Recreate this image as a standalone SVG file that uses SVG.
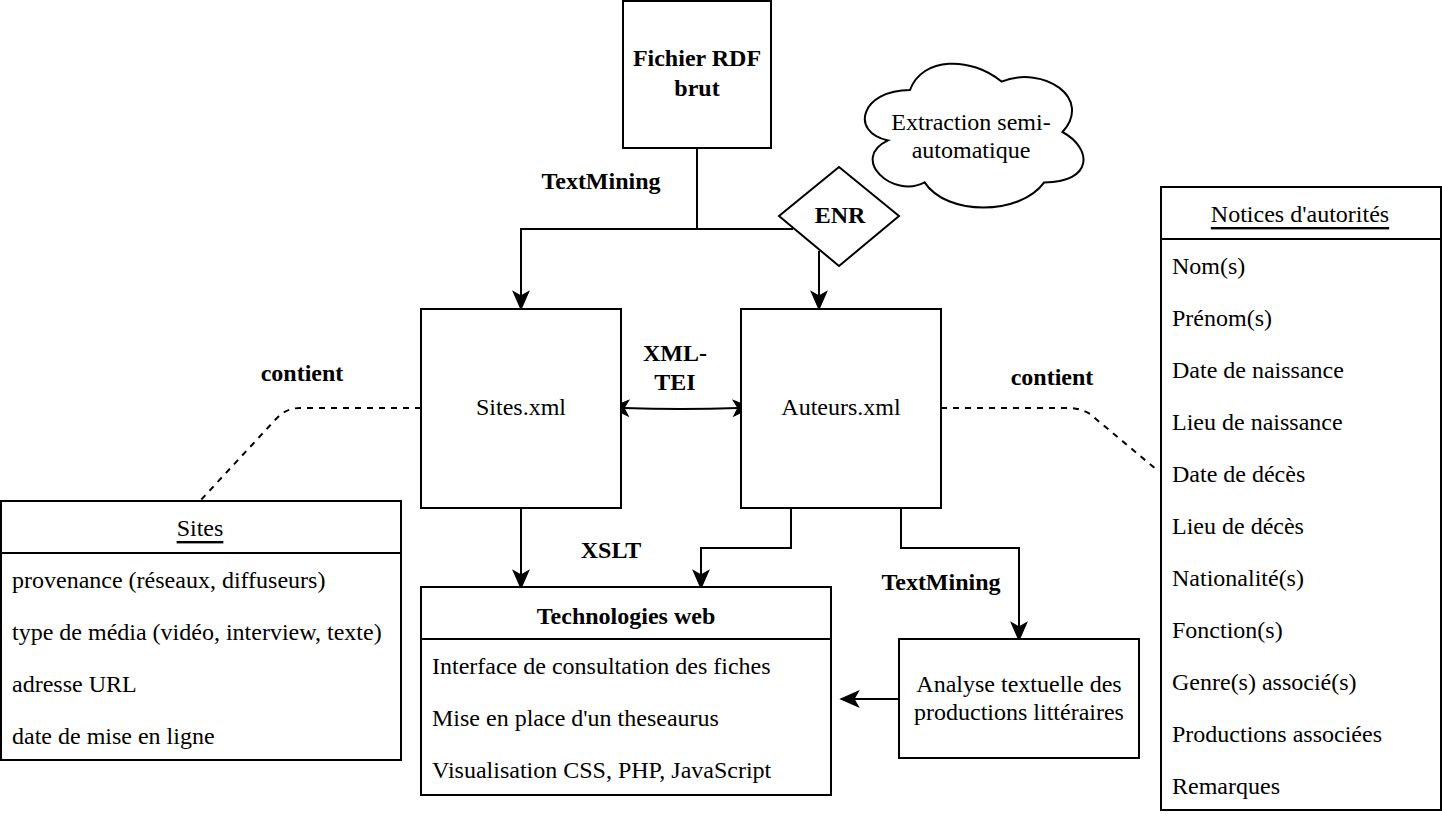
<svg xmlns="http://www.w3.org/2000/svg" width="1442" height="818" viewBox="0 0 1442 818">
<style>
text{font-family:"Liberation Serif","Times New Roman",serif;font-size:24px;fill:#000}
.b{font-weight:bold}
.c{text-anchor:middle;dominant-baseline:central}
.l{dominant-baseline:central}
.u{text-decoration:underline}
.box{fill:#fff;stroke:#000;stroke-width:2}
.ln{fill:none;stroke:#000;stroke-width:2}
.arr{marker-end:url(#ah)}
.dash{fill:none;stroke:#000;stroke-width:2;stroke-dasharray:6 6}
</style>
<defs>
<marker id="ah" markerUnits="userSpaceOnUse" orient="auto-start-reverse" refX="0" refY="0" markerWidth="20" markerHeight="20" viewBox="-5 -8 18 16" overflow="visible">
<path d="M12,0 L-4,-7 L0,0 L-4,7 Z" fill="#000" stroke="#000" stroke-width="1" stroke-linejoin="miter"/>
</marker>
</defs>
<rect width="1442" height="818" fill="#fff"/>

<g id="connectors">
<path class="ln" d="M697,148 L697,229"/>
<path class="ln arr" d="M793,229 L521,229 L521,296"/>
<path class="ln arr" d="M819,251 L819,296"/>
<path class="ln" d="M624,408 Q681,410 738,408" marker-start="url(#ah)" marker-end="url(#ah)"/>
<path class="ln arr" d="M521,508 L521,575"/>
<path class="ln arr" d="M791,508 L791,548 L701,548 L701,575"/>
<path class="ln arr" d="M901,508 L901,548 L1019,548 L1019,627"/>
<path class="ln arr" d="M899,699 L854,699"/>
<path class="dash" d="M421,408 L300,408 Q286,408 276,419 L200,501"/>
<path class="dash" d="M941,408 L1070,408 Q1080,408 1090,414 L1157,470"/>
<text class="c b" x="601" y="181">TextMining</text>
<text class="c b" x="675" y="353">XML-</text>
<text class="c b" x="675" y="382">TEI</text>
<text class="c b" x="302" y="373">contient</text>
<text class="c b" x="1052" y="377">contient</text>
<text class="c b" x="611" y="550">XSLT</text>
<text class="c b" x="941" y="582">TextMining</text>
</g>

<g id="rdf">
<rect class="box" x="623" y="1" width="148" height="147"/>
<text class="c b" x="697" y="58">Fichier RDF</text>
<text class="c b" x="697" y="88">brut</text>
</g>

<g id="enr">
<path class="box" d="M839,167 L899,216 L839,266 L779,216 Z"/>
<text class="c b" x="840" y="215">ENR</text>
</g>

<g id="cloud">
<path class="box" d="M910,90 C861.2,90 849,132 888,140.4 C849,158.9 892.9,199.2 924.6,182.4 C946.6,216 1019.8,216 1044.2,182.4 C1093,182.4 1093,148.8 1062.5,132 C1093,98.4 1044.2,64.8 1001.5,81.6 C971,56.4 922.2,56.4 910,90 Z"/>
<text class="c" x="971" y="122">Extraction semi-</text>
<text class="c" x="971" y="150">automatique</text>
</g>

<g id="sitesxml">
<rect class="box" x="421" y="309" width="200" height="199"/>
<text class="c" x="521" y="407">Sites.xml</text>
</g>

<g id="auteursxml">
<rect class="box" x="741" y="309" width="200" height="199"/>
<text class="c" x="841" y="407">Auteurs.xml</text>
</g>

<g id="sites">
<rect class="box" x="1" y="501" width="400" height="259"/>
<line class="ln" x1="1" y1="553" x2="401" y2="553"/>
<text class="c u" x="200" y="528">Sites</text>
<text class="l" x="12" y="580">provenance (réseaux, diffuseurs)</text>
<text class="l" x="12" y="632">type de média (vidéo, interview, texte)</text>
<text class="l" x="12" y="684">adresse URL</text>
<text class="l" x="12" y="736">date de mise en ligne</text>
</g>

<g id="techweb">
<rect class="box" x="421" y="587" width="410" height="208"/>
<line class="ln" x1="421" y1="639" x2="831" y2="639"/>
<text class="c b" x="626" y="616">Technologies web</text>
<text class="l" x="432" y="666">Interface de consultation des fiches</text>
<text class="l" x="432" y="718">Mise en place d'un theseaurus</text>
<text class="l" x="432" y="770">Visualisation CSS, PHP, JavaScript</text>
</g>

<g id="analyse">
<rect class="box" x="899" y="639" width="240" height="119"/>
<text class="c" x="1019" y="684">Analyse textuelle des</text>
<text class="c" x="1019" y="712">productions littéraires</text>
</g>

<g id="notices">
<rect class="box" x="1161" y="187" width="280" height="623"/>
<line class="ln" x1="1161" y1="239" x2="1441" y2="239"/>
<text class="c u" x="1300" y="214">Notices d'autorités</text>
<text class="l" x="1172" y="266">Nom(s)</text>
<text class="l" x="1172" y="318">Prénom(s)</text>
<text class="l" x="1172" y="370">Date de naissance</text>
<text class="l" x="1172" y="422">Lieu de naissance</text>
<text class="l" x="1172" y="474">Date de décès</text>
<text class="l" x="1172" y="526">Lieu de décès</text>
<text class="l" x="1172" y="578">Nationalité(s)</text>
<text class="l" x="1172" y="630">Fonction(s)</text>
<text class="l" x="1172" y="682">Genre(s) associé(s)</text>
<text class="l" x="1172" y="734">Productions associées</text>
<text class="l" x="1172" y="786">Remarques</text>
</g>
</svg>
